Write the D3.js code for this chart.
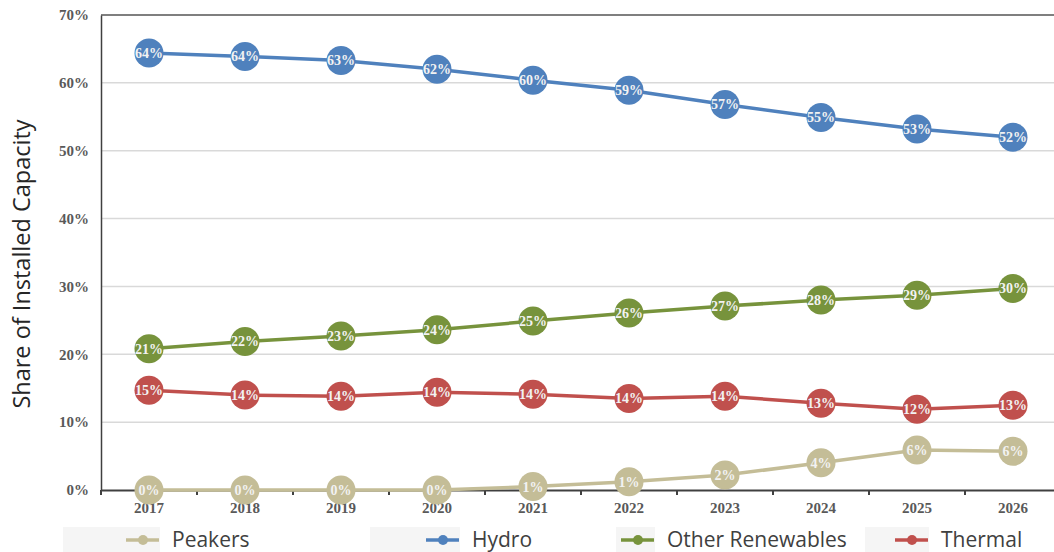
<!DOCTYPE html>
<html>
<head>
<meta charset="utf-8">
<script src="https://cdn.jsdelivr.net/npm/d3@7"></script>
<style>
  body { margin: 0; background: #fff; }
  svg { display: block; }
</style>
</head>
<body>
<svg id="chart"></svg>
<script>
const years = ["2017", "2018", "2019", "2020", "2021", "2022", "2023", "2024", "2025", "2026"];

const hydro = [64.4, 63.9, 63.3, 62.0, 60.4, 58.9, 56.8, 54.9, 53.2, 52.0];
const otherRenewables = [20.8, 21.9, 22.7, 23.6, 24.9, 26.1, 27.1, 28.0, 28.7, 29.7];
const thermal = [14.7, 14.0, 13.8, 14.4, 14.1, 13.5, 13.8, 12.8, 11.9, 12.5];
const peakers = [0, 0, 0, 0, 0.5, 1.2, 2.2, 4.0, 5.9, 5.7];

const yTicks = [0, 10, 20, 30, 40, 50, 60, 70];

const series = [
    {name: "Peakers", values: peakers, color: "#C4BD97"},
    {name: "Hydro", values: hydro, color: "#4F81BD"},
    {name: "Other Renewables", values: otherRenewables, color: "#77933C"},
    {name: "Thermal", values: thermal, color: "#C0504D"}
];

const width = 1054;
const height = 552;
const margin = {top: 15, right: -7, bottom: 62, left: 101};

const svg = d3.select("#chart")
    .attr("width", width)
    .attr("height", height);

const x = d3.scaleBand()
    .domain(years)
    .range([margin.left, width - margin.right]);

const y = d3.scaleLinear()
    .domain([0, 70])
    .range([height - margin.bottom, margin.top]);

const cx = d => x(d) + x.bandwidth() / 2;

// gridlines
svg.append("g")
    .selectAll("line")
    .data(yTicks.slice(1, -1))
    .join("line")
    .attr("x1", margin.left)
    .attr("x2", width)
    .attr("y1", d => y(d))
    .attr("y2", d => y(d))
    .attr("stroke", "#d9d9d9")
    .attr("stroke-width", 1.5);

// top border
svg.append("line")
    .attr("x1", margin.left)
    .attr("x2", width)
    .attr("y1", y(70))
    .attr("y2", y(70))
    .attr("stroke", "#7f7f7f")
    .attr("stroke-width", 2);

// y axis
const yAxis = svg.append("g")
    .attr("transform", `translate(${margin.left},0)`)
    .call(d3.axisLeft(y).tickValues(yTicks).tickSize(0).tickPadding(12).tickFormat(d => d + "%"));
yAxis.select(".domain").attr("stroke", "#404040").attr("stroke-width", 1.5);
yAxis.selectAll("text")
    .attr("font-family", "'Liberation Serif', serif")
    .attr("font-weight", "bold")
    .attr("font-size", "15px")
    .attr("fill", "#595959");

// x axis
const xAxis = svg.append("g")
    .attr("transform", `translate(0,${y(0)})`)
    .call(d3.axisBottom(x).tickSize(0).tickPadding(12).tickSizeOuter(0));
xAxis.select(".domain").attr("stroke", "#404040").attr("stroke-width", 2);
xAxis.selectAll("text")
    .attr("font-family", "'Liberation Serif', serif")
    .attr("font-weight", "bold")
    .attr("font-size", "15px")
    .attr("fill", "#595959");
xAxis.selectAll(".bnd")
    .data(years)
    .join("line")
    .attr("class", "bnd")
    .attr("x1", d => x(d))
    .attr("x2", d => x(d))
    .attr("y1", 0)
    .attr("y2", 5)
    .attr("stroke", "#404040")
    .attr("stroke-width", 2);

// y label
svg.append("text")
    .attr("transform", "translate(30,264) rotate(-90)")
    .attr("text-anchor", "middle")
    .attr("font-family", "'Open Sans', sans-serif")
    .attr("font-size", "23.5px")
    .attr("fill", "#262626")
    .text("Share of Installed Capacity");

const line = d3.line()
    .x((d, i) => cx(years[i]))
    .y(d => y(d));

const groups = svg.append("g")
    .selectAll("g")
    .data(series)
    .join("g");

groups.append("path")
    .attr("d", d => line(d.values))
    .attr("fill", "none")
    .attr("stroke", d => d.color)
    .attr("stroke-width", 3.5);

groups.selectAll("circle")
    .data(d => d.values.map((v, i) => ({v, year: years[i], color: d.color})))
    .join("circle")
    .attr("cx", d => cx(d.year))
    .attr("cy", d => y(d.v))
    .attr("r", 14.5)
    .attr("fill", d => d.color);

groups.selectAll("text")
    .data(d => d.values.map((v, i) => ({v, year: years[i]})))
    .join("text")
    .attr("x", d => cx(d.year))
    .attr("y", d => y(d.v))
    .attr("dy", "0.35em")
    .attr("text-anchor", "middle")
    .attr("font-family", "'Liberation Serif', serif")
    .attr("font-weight", "bold")
    .attr("font-size", "14px")
    .attr("fill", "#f2f2f2")
    .text(d => Math.round(d.v) + "%");

// legend
const legendX = [160, 460, 655, 929];
const legendBoxL = [63, 370, 616, 865];
const legendY = 540;

const legend = svg.append("g")
    .selectAll("g")
    .data(series)
    .join("g");

legend.append("rect")
    .attr("x", (d, i) => legendBoxL[i])
    .attr("y", 527)
    .attr("width", (d, i) => legendX[i] - legendBoxL[i])
    .attr("height", 25)
    .attr("fill", "#f5f5f5");

legend.append("line")
    .attr("x1", (d, i) => legendX[i] - 34)
    .attr("x2", (d, i) => legendX[i] - 1)
    .attr("y1", legendY)
    .attr("y2", legendY)
    .attr("stroke", d => d.color)
    .attr("stroke-width", 3.5);

legend.append("circle")
    .attr("cx", (d, i) => legendX[i] - 17)
    .attr("cy", legendY)
    .attr("r", 5)
    .attr("fill", d => d.color);

legend.append("text")
    .attr("x", (d, i) => legendX[i] + 12)
    .attr("y", legendY)
    .attr("dy", "0.35em")
    .attr("font-family", "'Open Sans', sans-serif")
    .attr("font-size", "21px")
    .attr("fill", "#404040")
    .text(d => d.name);
</script>
</body>
</html>
